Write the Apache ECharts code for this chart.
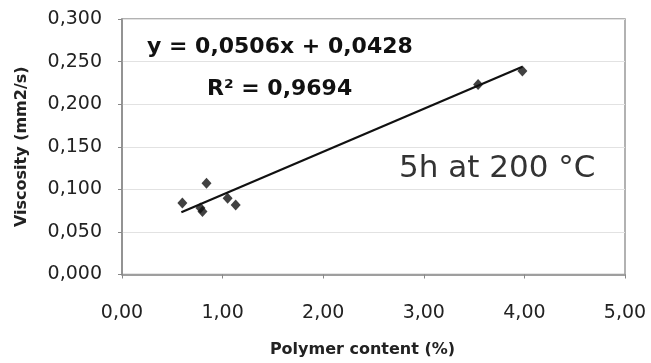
<!DOCTYPE html>
<html>
<head>
<meta charset="utf-8">
<script src="https://cdn.jsdelivr.net/npm/echarts@6/dist/echarts.min.js"></script>
<style>
html,body{margin:0;padding:0;background:#fff;}
#chart{width:651px;height:363px;}
</style>
</head>
<body>
<div id="chart"></div>
<script>
// Data
const polymerContent = [0.60, 0.84, 0.78, 0.80, 1.05, 1.13, 3.54, 3.98];
const viscosity      = [0.084, 0.107, 0.078, 0.074, 0.0895, 0.0815, 0.223, 0.239];
// Trendline endpoints as drawn in the picture
const trendX = [0.59, 3.98];
const trendY = [0.073, 0.244];
// Tick labels
const xTickLabels = ['0,00', '1,00', '2,00', '3,00', '4,00', '5,00'];
const yTickLabels = ['0,000', '0,050', '0,100', '0,150', '0,200', '0,250', '0,300'];
const equationText = 'y = 0,0506x + 0,0428';
const r2Text = 'R² = 0,9694';
const conditionText = '5h at 200 °C';
const xTitle = 'Polymer content (%)';
const yTitle = 'Viscosity (mm2/s)';

const FONT = '"DejaVu Sans", "Liberation Sans", Arial, sans-serif';
const chart = echarts.init(document.getElementById('chart'), null, {renderer: 'canvas'});

const points = polymerContent.map((x, i) => [x, viscosity[i]]);
const trend = trendX.map((x, i) => [x, trendY[i]]);

chart.setOption({
  animation: false,
  backgroundColor: '#ffffff',
  grid: {left: 122, right: 26, top: 19, bottom: 88.5, show: true, borderColor: '#999', borderWidth: 1.5, backgroundColor: 'transparent'},
  xAxis: {
    type: 'value', min: 0, max: 5, interval: 1,
    name: xTitle, nameLocation: 'middle', nameGap: 67,
    nameTextStyle: {fontFamily: FONT, fontWeight: 'bold', fontSize: 16, color: '#222', padding: [0, 22, 0, 0]},
    axisLine: {show: true, onZero: false, lineStyle: {color: '#888', width: 1.5}},
    axisTick: {show: true, inside: false, length: 4, lineStyle: {color: '#888'}},
    splitLine: {show: false},
    axisLabel: {margin: 29, fontFamily: FONT, fontSize: 19, color: '#222',
      formatter: v => xTickLabels[Math.round(v)]}
  },
  yAxis: {
    type: 'value', min: 0, max: 0.3, interval: 0.05,
    name: yTitle, nameLocation: 'middle', nameGap: 92, nameRotate: 90,
    nameTextStyle: {fontFamily: FONT, fontWeight: 'bold', fontSize: 16, color: '#222'},
    axisLine: {show: true, lineStyle: {color: '#888', width: 1.5}},
    axisTick: {show: true, inside: false, length: 4, lineStyle: {color: '#888'}},
    splitLine: {show: true, lineStyle: {color: '#e2e2e2', width: 1}},
    axisLabel: {margin: 20, fontFamily: FONT, fontSize: 19, color: '#222',
      formatter: v => yTickLabels[Math.round(v / 0.05)]}
  },
  series: [
    {
      type: 'line', data: trend, showSymbol: false, symbol: 'none',
      lineStyle: {color: '#111', width: 2.2}, z: 2, silent: true
    },
    {
      type: 'scatter', data: points, symbol: 'diamond', symbolSize: [10, 11],
      itemStyle: {color: '#111'}, z: 3
    }
  ],
  graphic: [
    {type: 'text', left: 147, top: 36, style: {text: equationText, font: 'bold 22px ' + FONT, fill: '#111'}},
    {type: 'text', left: 207, top: 78, style: {text: r2Text, font: 'bold 22px ' + FONT, fill: '#111'}},
    {type: 'text', left: 399, top: 153, style: {text: conditionText, font: 'normal 31px ' + FONT, fill: '#333'}}
  ]
});
</script>
</body>
</html>
